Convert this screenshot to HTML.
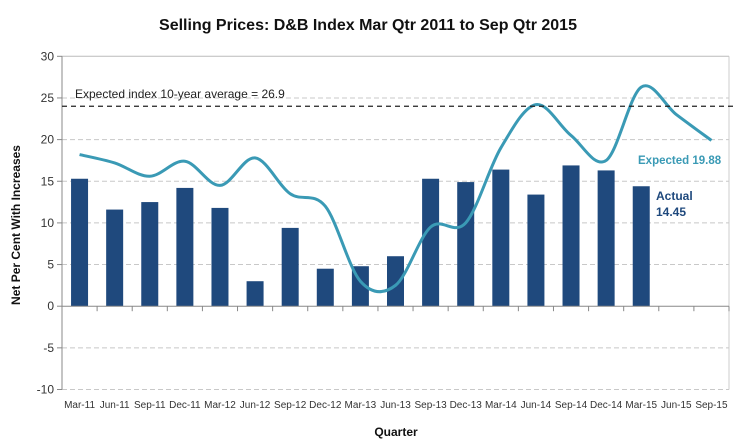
<!DOCTYPE html>
<html><head><meta charset="utf-8"><style>
body{margin:0;background:#fff;font-family:"Liberation Sans",Arial,sans-serif}
svg text{font-family:"Liberation Sans",Arial,sans-serif}
</style></head><body>
<svg id="c" width="737" height="443" viewBox="0 0 737 443">
<text x="368" y="30" text-anchor="middle" font-size="16" font-weight="bold" fill="#111">Selling Prices: D&amp;B Index Mar Qtr 2011 to Sep Qtr 2015</text>
<g id="grid"></g>
<g id="bars"></g>
<g id="axes"></g>
<path id="line" fill="none" stroke="#3a9ab5" stroke-width="3"/>
<line id="avg" stroke="#222" stroke-width="1.2" stroke-dasharray="5,4"/>
<text x="75" y="98" font-size="12" fill="#222">Expected index 10-year average = 26.9</text>
<text x="638" y="164" font-size="11.5" font-weight="bold" fill="#3a9ab5">Expected 19.88</text>
<text x="656" y="200" font-size="12" font-weight="bold" fill="#1f497d">Actual</text>
<text x="656" y="216" font-size="12" font-weight="bold" fill="#1f497d">14.45</text>
<text x="20" y="225" transform="rotate(-90 20 225)" text-anchor="middle" font-size="12" font-weight="bold" fill="#111">Net Per Cent With Increases</text>
<text x="396" y="436" text-anchor="middle" font-size="12" font-weight="bold" fill="#111">Quarter</text>
</svg>
<script>
const categories=["Mar-11","Jun-11","Sep-11","Dec-11","Mar-12","Jun-12","Sep-12","Dec-12","Mar-13","Jun-13","Sep-13","Dec-13","Mar-14","Jun-14","Sep-14","Dec-14","Mar-15","Jun-15","Sep-15"];
const actual=[15.3,11.6,12.5,14.2,11.8,3.0,9.4,4.5,4.8,6.0,15.3,14.9,16.4,13.4,16.9,16.3,14.4,null,null];
const expected=[18.2,17.2,15.6,17.4,14.5,17.8,13.5,12.0,3.0,2.5,9.5,10.0,19.0,24.2,20.5,17.5,26.3,23.0,19.9];
const yTicks=[-10,-5,0,5,10,15,20,25,30];
const average=24.0;
const NS="http://www.w3.org/2000/svg";
const L=62,R=729,yTop=56.3,yBot=389.5,yMin=-10,yMax=30;
const bw=(R-L)/categories.length;
const xs=i=>L+bw*(i+0.5);
const ys=v=>yBot-(v-yMin)/(yMax-yMin)*(yBot-yTop);
function mk(t,a,p){const e=document.createElementNS(NS,t);for(const k in a)e.setAttribute(k,a[k]);p.appendChild(e);return e;}
const grid=document.getElementById('grid'),bars=document.getElementById('bars'),axes=document.getElementById('axes');
yTicks.forEach(v=>{
 if(v!==0&&v!==yMax){const g=mk('line',{x1:L,x2:R,y1:ys(v),y2:ys(v),stroke:'#c8c8c8','stroke-dasharray':'5,3'},grid);
 
 }
 if(v===yMax){const g=mk('line',{x1:L,x2:R,y1:ys(v),y2:ys(v),stroke:'#bbb'},grid);
 
 }
 mk('line',{x1:L-5,x2:L,y1:ys(v),y2:ys(v),stroke:'#888'},axes);
 const t=mk('text',{x:L-8,y:ys(v)+4,'text-anchor':'end','font-size':12,fill:'#333'},axes);t.textContent=v;
 
 
});
mk('line',{x1:L,x2:L,y1:yTop,y2:yBot,stroke:'#888'},axes);
mk('line',{x1:R,x2:R,y1:yTop,y2:yBot,stroke:'#ccc'},axes);
mk('line',{x1:L,x2:R,y1:ys(0),y2:ys(0),stroke:'#888'},axes);
categories.forEach((c,i)=>{
 mk('line',{x1:L+bw*(i+1),x2:L+bw*(i+1),y1:ys(0),y2:ys(0)+5,stroke:'#888'},axes);
 const t=mk('text',{x:xs(i),y:408,'text-anchor':'middle','font-size':10,fill:'#333'},axes);t.textContent=c;
 
 
 if(actual[i]!=null){const b=mk('rect',{x:xs(i)-8.5,width:17,y:ys(actual[i]),height:ys(0)-ys(actual[i]),fill:'#1f497d'},bars);
 
 }
});
const p=expected.map((v,i)=>[xs(i),ys(v)]);
let d='M'+p[0][0]+','+p[0][1];
for(let i=0;i<p.length-1;i++){const p0=p[i-1]||p[i],p1=p[i],p2=p[i+1],p3=p[i+2]||p2;
 d+=` C${p1[0]+(p2[0]-p0[0])/6},${p1[1]+(p2[1]-p0[1])/6} ${p2[0]-(p3[0]-p1[0])/6},${p2[1]-(p3[1]-p1[1])/6} ${p2[0]},${p2[1]}`;}
document.getElementById('line').setAttribute('d',d);
const a=document.getElementById('avg');a.setAttribute('x1',L);a.setAttribute('x2',R+5);a.setAttribute('y1',ys(average));a.setAttribute('y2',ys(average));
</script>
</body></html>
